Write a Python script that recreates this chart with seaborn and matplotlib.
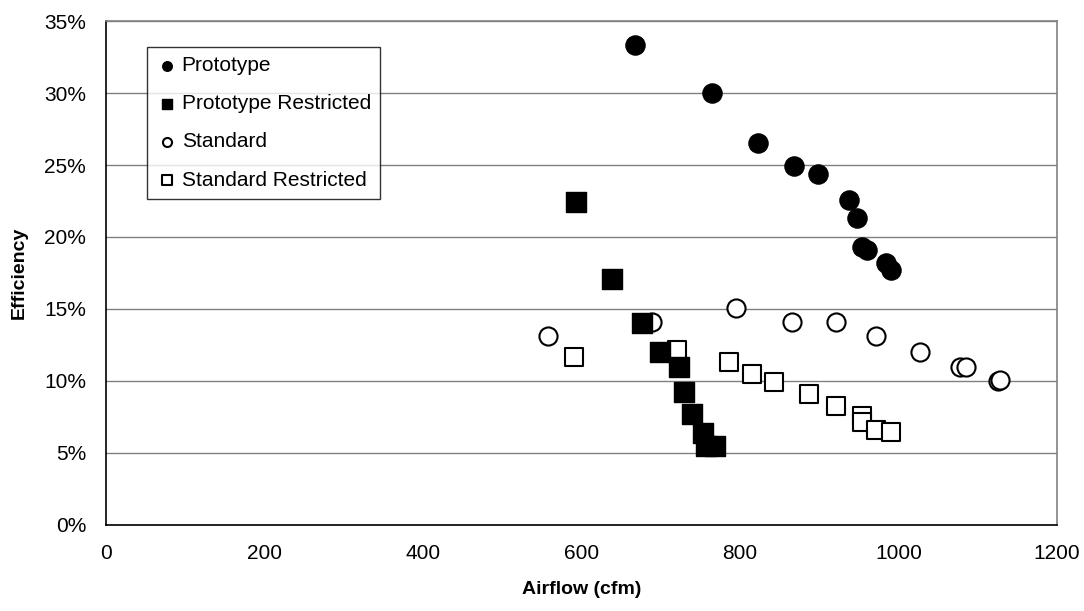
import matplotlib
matplotlib.use("Agg")
import matplotlib.pyplot as plt
import seaborn as sns
from matplotlib.ticker import PercentFormatter

# data (airflow in cfm, efficiency as fraction)
proto_x = [667, 765, 823, 868, 898, 937, 947, 954, 960, 984, 990]
proto_y = [0.333, 0.300, 0.265, 0.2495, 0.244, 0.226, 0.213, 0.193, 0.191, 0.182, 0.177]

proto_r_x = [593, 639, 677, 699, 723, 730, 740, 753, 757, 768]
proto_r_y = [0.224, 0.171, 0.140, 0.120, 0.110, 0.0925, 0.077, 0.064, 0.055, 0.055]

std_x = [558, 689, 795, 866, 921, 972, 1027, 1078, 1085, 1125, 1128]
std_y = [0.131, 0.141, 0.1505, 0.141, 0.141, 0.131, 0.120, 0.110, 0.110, 0.100, 0.1005]

std_r_x = [591, 720, 786, 815, 843, 887, 921, 954, 954, 972, 990]
std_r_y = [0.117, 0.1215, 0.113, 0.105, 0.0995, 0.0907, 0.0826, 0.0757, 0.0717, 0.066, 0.0644]

x_ticks = [0, 200, 400, 600, 800, 1000, 1200]
y_ticks = [0, 0.05, 0.10, 0.15, 0.20, 0.25, 0.30, 0.35]

sns.set_style("white")
plt.rcParams["font.family"] = ["Liberation Sans", "DejaVu Sans"]
plt.rcParams["text.color"] = "black"
plt.rcParams["axes.labelcolor"] = "black"
plt.rcParams["xtick.color"] = "black"
plt.rcParams["ytick.color"] = "black"

fig = plt.figure(figsize=(10.84, 6.11), dpi=100)
ax = fig.add_axes([0.0975, 0.1408, 0.8777, 0.8248])

ms = 190
# open markers below, filled markers on top, legend order kept
sns.scatterplot(x=proto_x, y=proto_y, marker="o", s=ms, color="black",
                edgecolor="black", linewidth=1, label="Prototype", ax=ax, zorder=4)
sns.scatterplot(x=proto_r_x, y=proto_r_y, marker="s", s=ms, color="black",
                edgecolor="black", linewidth=1, label="Prototype Restricted", ax=ax, zorder=4)
sns.scatterplot(x=std_x, y=std_y, marker="o", s=170, color="white",
                edgecolor="black", linewidth=1.5, label="Standard", ax=ax, zorder=3)
sns.scatterplot(x=std_r_x, y=std_r_y, marker="s", s=170, color="white",
                edgecolor="black", linewidth=1.5, label="Standard Restricted", ax=ax, zorder=3)

ax.set_xlim(0, 1200)
ax.set_ylim(0, 0.35)
ax.set_xticks(x_ticks)
ax.set_yticks(y_ticks)
ax.yaxis.set_major_formatter(PercentFormatter(1.0, decimals=0))
ax.grid(axis="y", color="#808080", linewidth=1)
ax.grid(axis="x", visible=False)
ax.set_axisbelow(True)

for side in ["top", "right"]:
    ax.spines[side].set_color("#808080")
    ax.spines[side].set_linewidth(1.2)
for side in ["left", "bottom"]:
    ax.spines[side].set_color("black")
    ax.spines[side].set_linewidth(1.2)

ax.tick_params(axis="both", direction="out", length=6, width=1, color="black",
               labelsize=15, pad=8, labelcolor="black")
ax.set_xlabel("Airflow (cfm)", fontsize=14, fontweight="bold", labelpad=13)
ax.set_ylabel("Efficiency", fontsize=14, fontweight="bold", labelpad=12)

leg = ax.legend(loc="upper left", bbox_to_anchor=(0.0437, 0.949), borderaxespad=0,
                fontsize=15, markerscale=0.5, frameon=True, fancybox=False,
                edgecolor="black", labelspacing=0.92, handletextpad=0.2,
                handlelength=1.0, borderpad=0.45)
leg.get_frame().set_linewidth(1)
for t in leg.get_texts():
    t.set_color("black")

fig.savefig("out.png", dpi=100)
